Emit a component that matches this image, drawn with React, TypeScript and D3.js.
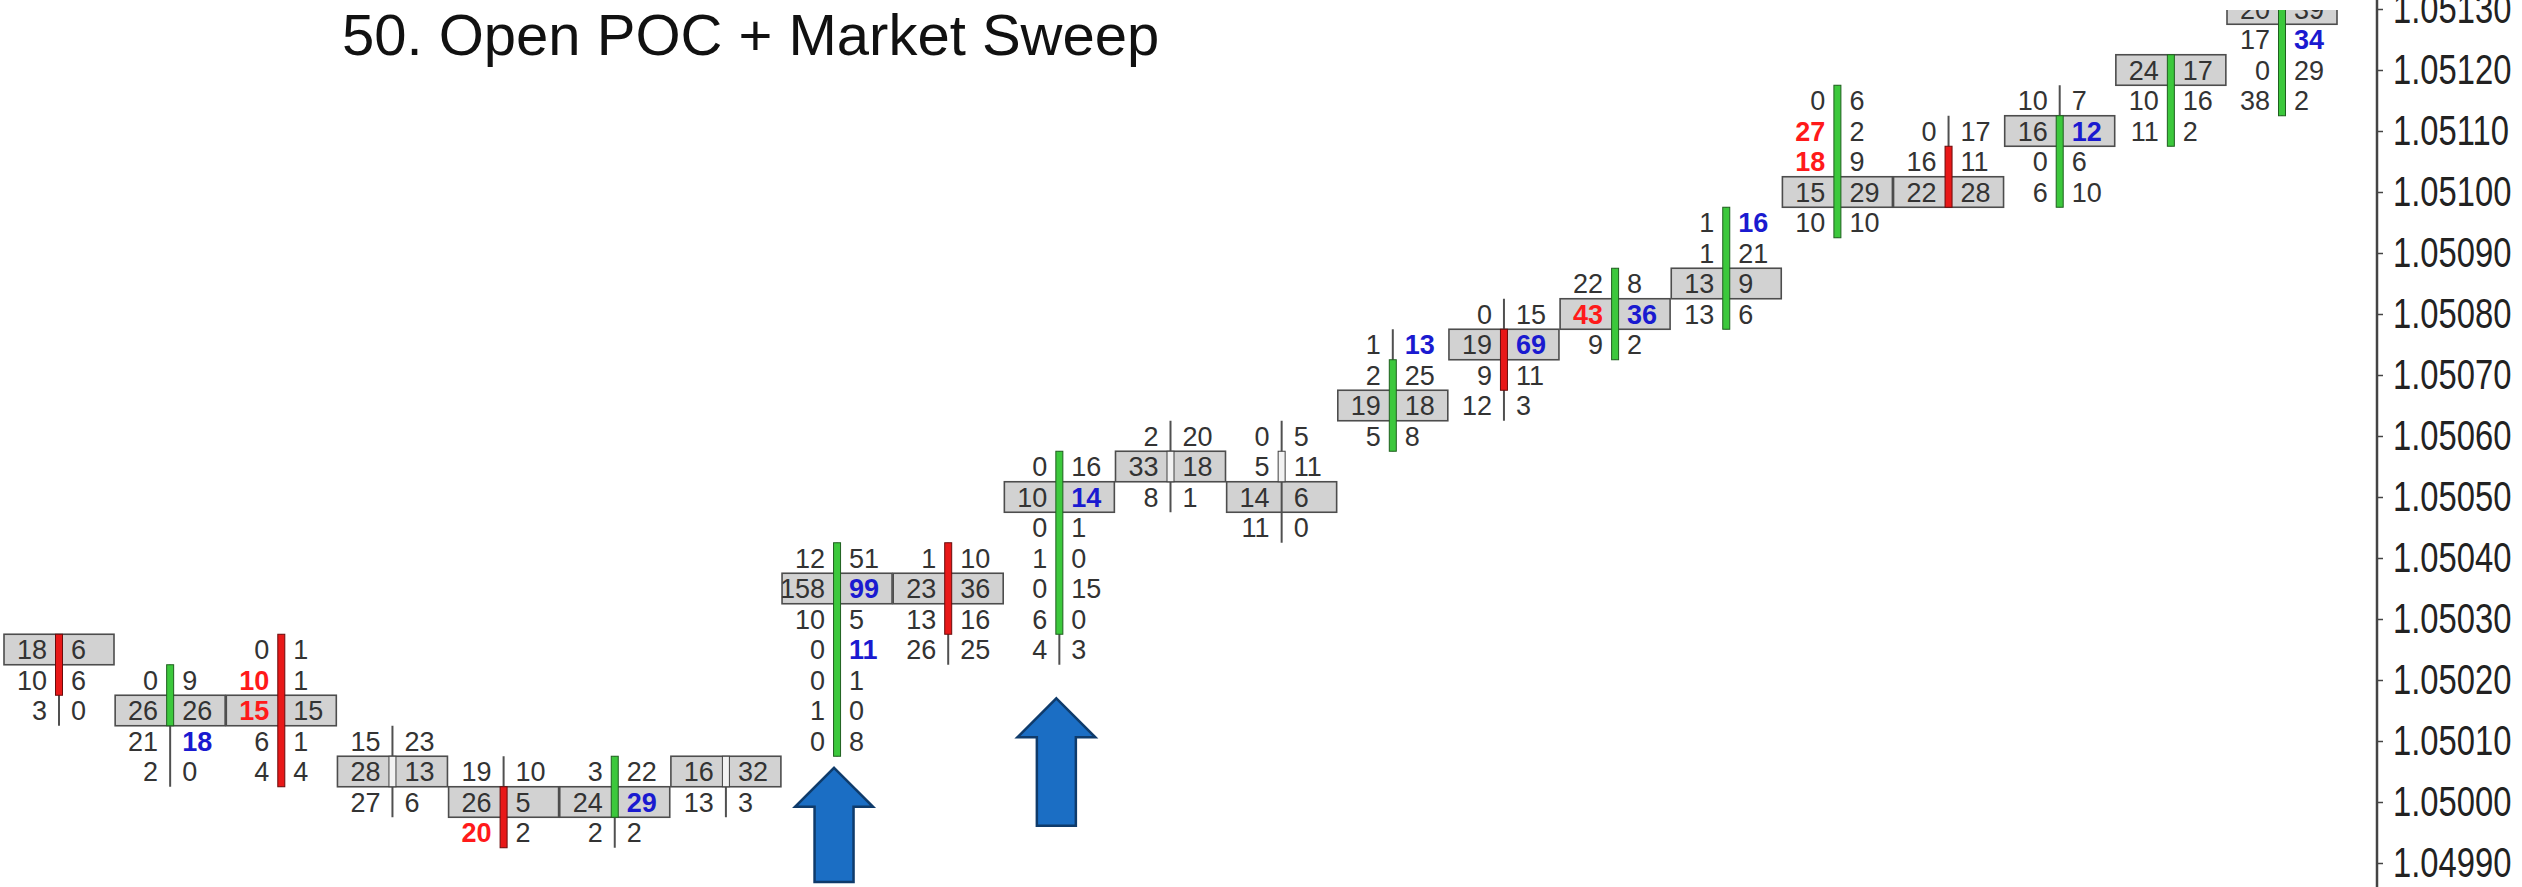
import React from 'react';
import * as d3 from 'd3';

const W = 2522;
const H = 887;
const TITLE = '50. Open POC + Market Sweep';
const PRICE_STEP = 0.00005;

// bar numbers (categories)
const candles = ['1','2','3','4','5','6','7','8','9','10','11','12','13','14','15','16','17','18','19','20','21'];
// price of the top row of each bar
const topPrices = [1.05025, 1.0502, 1.05025, 1.0501, 1.05005, 1.05005, 1.05005, 1.0504, 1.0504, 1.05055, 1.0506, 1.0506, 1.05075, 1.0508, 1.05085, 1.05095, 1.05115, 1.0511, 1.05115, 1.0512, 1.0513];
// bid volumes by row (top -> bottom)
const bidVolumes = [
  [18, 10, 3],
  [0, 26, 21, 2],
  [0, 10, 15, 6, 4],
  [15, 28, 27],
  [19, 26, 20],
  [3, 24, 2],
  [16, 13],
  [12, 158, 10, 0, 0, 1, 0],
  [1, 23, 13, 26],
  [0, 10, 0, 1, 0, 6, 4],
  [2, 33, 8],
  [0, 5, 14, 11],
  [1, 2, 19, 5],
  [0, 19, 9, 12],
  [22, 43, 9],
  [1, 1, 13, 13],
  [0, 27, 18, 15, 10],
  [0, 16, 22],
  [10, 16, 0, 6],
  [24, 10, 11],
  [20, 17, 0, 38],
];
// ask volumes by row (top -> bottom)
const askVolumes = [
  [6, 6, 0],
  [9, 26, 18, 0],
  [1, 1, 15, 1, 4],
  [23, 13, 6],
  [10, 5, 2],
  [22, 29, 2],
  [32, 3],
  [51, 99, 5, 11, 1, 0, 8],
  [10, 36, 16, 25],
  [16, 14, 1, 0, 15, 0, 3],
  [20, 18, 1],
  [5, 11, 6, 0],
  [13, 25, 18, 8],
  [15, 69, 11, 3],
  [8, 36, 2],
  [16, 21, 9, 6],
  [6, 2, 9, 29, 10],
  [17, 11, 28],
  [7, 12, 6, 10],
  [17, 16, 2],
  [39, 34, 29, 2],
];
// point of control row index per bar
const pocRows = [0, 1, 2, 1, 1, 1, 0, 1, 1, 1, 1, 2, 2, 1, 1, 2, 3, 2, 1, 0, 0];
const openPrices = [1.05025, 1.05015, 1.05025, 1.05005, 1.05, 1.05, 1.05005, 1.0501, 1.0504, 1.0503, 1.05055, 1.05055, 1.0506, 1.05075, 1.05075, 1.0508, 1.05095, 1.05105, 1.051, 1.0511, 1.05115];
const closePrices = [1.0502, 1.0502, 1.05005, 1.05005, 1.04995, 1.05005, 1.05005, 1.0504, 1.0503, 1.05055, 1.05055, 1.05055, 1.0507, 1.0507, 1.05085, 1.05095, 1.05115, 1.051, 1.0511, 1.0512, 1.0513];
// imbalance rows (bid side red, ask side blue)
const bidImbalanceRows = [[], [], [1, 2], [], [2], [], [], [], [], [], [], [], [], [], [1], [], [1, 2], [], [], [], []];
const askImbalanceRows = [[], [2], [], [], [], [1], [], [1, 3], [], [1], [], [], [0], [1], [1], [0], [], [], [1], [], [1]];
// y axis tick labels
const tickLabels = ['1.04990', '1.05000', '1.05010', '1.05020', '1.05030', '1.05040', '1.05050', '1.05060', '1.05070', '1.05080', '1.05090', '1.05100', '1.05110', '1.05120', '1.05130'];
// annotation arrows (bar index, tip price, base price)
const arrowBars = [7, 9];
const arrowTipPrices = [1.050056, 1.05017];
const arrowBasePrices = [1.049869, 1.049961];

const FONT = "'Liberation Sans', Arial, Helvetica, sans-serif";

export default function App() {
  const axisRef = React.useRef<SVGGElement>(null);
  const x = d3.scalePoint<number>().domain(d3.range(candles.length)).range([59, 2282]);
  const y = d3.scaleLinear().domain([1.0499, 1.0513]).range([863, 9]);
  const rowH = Math.abs(y(1.0499 + PRICE_STEP) - y(1.0499));
  const half = 55;
  const axisX = 2377;
  const labelSqueeze = 0.78;

  React.useEffect(() => {
    if (!axisRef.current) return;
    const g = d3.select(axisRef.current);
    const axis = d3
      .axisRight(y)
      .tickValues(tickLabels.map(Number))
      .tickFormat((d) => d3.format('.5f')(d as number))
      .tickSize(6)
      .tickPadding(10);
    g.call(axis as any);
    g.select('.domain').remove();
    g.selectAll('.tick line').attr('stroke', '#444').attr('stroke-width', 1.5);
    g.selectAll('.tick text')
      .attr('fill', '#222')
      .attr('x', 16 / labelSqueeze)
      .attr('transform', `scale(${labelSqueeze},1)`)
      .style('font-size', '42px')
      .style('font-family', FONT);
  }, []);

  const rowsOf = (i: number) => bidVolumes[i].map((b, r) => ({
    r,
    price: topPrices[i] - r * PRICE_STEP,
    bid: b,
    ask: askVolumes[i][r],
  }));

  return (
    <svg width={W} height={H} style={{ position: 'absolute', left: 0, top: 0, background: '#fff' }}>
      <defs>
        <clipPath id="plotClip">
          <rect x={0} y={10} width={axisX} height={H - 10} />
        </clipPath>
      </defs>
      <rect x={0} y={0} width={W} height={H} fill="#fff" />
      <g clipPath="url(#plotClip)">
        {/* POC boxes */}
        {candles.map((c, i) => {
          const p = topPrices[i] - pocRows[i] * PRICE_STEP;
          const cx = x(i)!;
          return (
            <rect key={'box' + c} x={cx - half} y={y(p) - rowH / 2} width={half * 2} height={rowH}
              fill="#d2d2d2" stroke="#4d4d4d" strokeWidth={1.6} />
          );
        })}
        {/* wicks */}
        {candles.map((c, i) => {
          const cx = x(i)!;
          const hi = topPrices[i];
          const lo = topPrices[i] - (bidVolumes[i].length - 1) * PRICE_STEP;
          return (
            <line key={'wick' + c} x1={cx} x2={cx} y1={y(hi) - rowH / 2} y2={y(lo) + rowH / 2}
              stroke="#505050" strokeWidth={2} />
          );
        })}
        {/* bodies */}
        {candles.map((c, i) => {
          const cx = x(i)!;
          const o = openPrices[i];
          const cl = closePrices[i];
          const top = Math.max(o, cl);
          const bot = Math.min(o, cl);
          const up = cl > o + 1e-9;
          const down = cl < o - 1e-9;
          const fill = up ? '#3cc83c' : down ? '#e81818' : '#f2f2f2';
          const stroke = up ? '#1f5f1f' : down ? '#6a0c0c' : '#404040';
          return (
            <rect key={'body' + c} x={cx - 3.5} y={y(top) - rowH / 2} width={7}
              height={y(bot) - y(top) + rowH} fill={fill} stroke={stroke} strokeWidth={1} />
          );
        })}
        {/* numbers */}
        {candles.map((c, i) => {
          const cx = x(i)!;
          return (
            <g key={'txt' + c}>
              {rowsOf(i).map((row) => {
                const bidHot = (bidImbalanceRows[i] as number[]).includes(row.r);
                const askHot = (askImbalanceRows[i] as number[]).includes(row.r);
                return (
                  <g key={row.r}>
                    <text x={cx - 12} y={y(row.price)} dy="0.36em" textAnchor="end"
                      fontFamily={FONT} fontSize={27}
                      fontWeight={bidHot ? 'bold' : 'normal'}
                      fill={bidHot ? '#ff1a1a' : '#333'}>{row.bid}</text>
                    <text x={cx + 12} y={y(row.price)} dy="0.36em" textAnchor="start"
                      fontFamily={FONT} fontSize={27}
                      fontWeight={askHot ? 'bold' : 'normal'}
                      fill={askHot ? '#1a1ad0' : '#333'}>{row.ask}</text>
                  </g>
                );
              })}
            </g>
          );
        })}
      </g>
      {/* arrows */}
      {arrowBars.map((b, k) => {
        const cx = x(b)! - 3;
        const tip = y(arrowTipPrices[k]);
        const base = y(arrowBasePrices[k]);
        const headLen = 39;
        const headHalf = 39;
        const shaftHalf = 19.5;
        const pts = [
          [cx, tip],
          [cx + headHalf, tip + headLen],
          [cx + shaftHalf, tip + headLen],
          [cx + shaftHalf, base],
          [cx - shaftHalf, base],
          [cx - shaftHalf, tip + headLen],
          [cx - headHalf, tip + headLen],
        ];
        return (
          <polygon key={'arrow' + k} points={pts.map((p) => p.join(',')).join(' ')}
            fill="#1b6ec4" stroke="#0f3b6b" strokeWidth={2.5} strokeLinejoin="miter" />
        );
      })}
      {/* y axis */}
      <line x1={axisX} x2={axisX} y1={0} y2={H} stroke="#444" strokeWidth={2.5} />
      <g ref={axisRef} transform={`translate(${axisX},0)`} />
      {/* title */}
      <text x={342} y={55} fontFamily={FONT} fontSize={58} fill="#111">{TITLE}</text>
    </svg>
  );
}
